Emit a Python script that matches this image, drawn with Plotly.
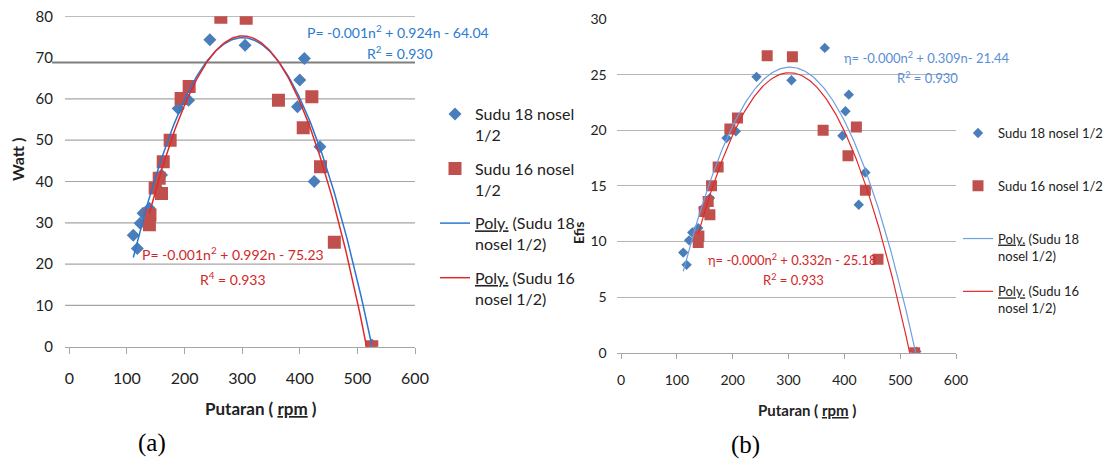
import numpy as np
import plotly.graph_objects as go

# ---------------- data ----------------
# (a) Power (Watt) vs rotation (rpm)
a_s18_rpm = [111, 118, 123, 128, 139, 152, 160, 189, 207, 244, 305, 396, 400, 408, 425, 435, 525]
a_s18_watt = [27.0, 23.8, 29.9, 32.3, 33.5, 38.5, 41.6, 57.7, 59.7, 74.3, 73.0, 58.1, 64.6, 69.8, 40.0, 48.4, 0.4]
a_s16_rpm = [139, 140, 149, 156, 160, 163, 175, 194, 208, 263, 307, 363, 406, 421, 436, 460, 525]
a_s16_watt = [29.5, 31.9, 38.4, 40.8, 37.1, 44.8, 50.0, 60.1, 63.0, 79.8, 79.5, 59.7, 53.0, 60.5, 43.6, 25.3, 0.0]

# (b) Efficiency vs rotation (rpm)
b_s18_rpm = [111.5, 117.5, 122, 127.6, 138.3, 147.3, 159.2, 189, 205.7, 242.7, 305.3, 365, 396.5, 402, 408, 425.8, 437.7, 529]
b_s18_eff = [9.0, 7.9, 10.1, 10.8, 11.2, 13.0, 13.9, 19.3, 19.9, 24.8, 24.5, 27.4, 19.5, 21.7, 23.2, 13.3, 16.2, 0.1]
b_s16_rpm = [138.3, 139.5, 149, 156.2, 159.2, 162.2, 174, 195, 208.7, 261.8, 307, 362, 406.6, 421.6, 437.7, 460.3, 526]
b_s16_eff = [9.9, 10.5, 12.7, 13.6, 12.4, 15.0, 16.7, 20.1, 21.1, 26.7, 26.6, 20.0, 17.7, 20.3, 14.6, 8.4, 0.0]

a_y_ticks = [0, 10, 20, 30, 40, 50, 60, 70, 80]
b_y_ticks = [0, 5, 10, 15, 20, 25, 30]
x_ticks = [0, 100, 200, 300, 400, 500, 600]

WAVY = "text-decoration:underline;text-decoration-style:wavy;text-decoration-color:#e00000"
name_s18 = "Sudu 18 nosel<br>1/2"
name_s16 = "Sudu 16 nosel<br>1/2"
name_p18 = f"<span style='{WAVY}'>Poly.</span> (Sudu 18<br>nosel 1/2)"
name_p16 = f"<span style='{WAVY}'>Poly.</span> (Sudu 16<br>nosel 1/2)"
name_s18b = "Sudu 18 nosel 1/2<br> "
name_s16b = "Sudu 16 nosel 1/2<br> "

# ---------------- style ----------------
W, H = 1104, 461
FONT = "Lato"
BLUE_M = "#4A7EBB"
RED_M = "#C0504D"
BLUE_L = "#2a78cf"
BLUE_L2 = "#6f9fe0"
RED_L = "#e02a2a"
GRID = "#a6a6a6"


def px(x):
    return x / W


def py(y):
    return 1 - y / H


def trend(x, y):
    c = np.polyfit(x, y, 2)
    xs = np.linspace(min(x), max(x), 200)
    return xs, np.polyval(c, xs)


fig = go.Figure()

# ---- panel (a) ----
fig.add_trace(go.Scatter(x=a_s18_rpm, y=a_s18_watt, mode="markers", name=name_s18,
                         marker=dict(symbol="diamond", size=10, color=BLUE_M),
                         xaxis="x", yaxis="y", legend="legend", legendgroup="a1"))
fig.add_trace(go.Scatter(x=a_s16_rpm, y=a_s16_watt, mode="markers", name=name_s16,
                         marker=dict(symbol="square", size=13, color=RED_M),
                         xaxis="x", yaxis="y", legend="legend", legendgroup="a2"))
xs, ys = trend(a_s18_rpm, a_s18_watt)
fig.add_trace(go.Scatter(x=xs, y=ys, mode="lines", name=name_p18,
                         line=dict(color=BLUE_L, width=1.5),
                         xaxis="x", yaxis="y", legend="legend", legendgroup="a3"))
xs, ys = trend(a_s16_rpm, a_s16_watt)
fig.add_trace(go.Scatter(x=xs, y=ys, mode="lines", name=name_p16,
                         line=dict(color=RED_L, width=1.5),
                         xaxis="x", yaxis="y", legend="legend", legendgroup="a4"))

# ---- panel (b) ----
fig.add_trace(go.Scatter(x=b_s18_rpm, y=b_s18_eff, mode="markers", name=name_s18b,
                         marker=dict(symbol="diamond", size=8, color=BLUE_M),
                         xaxis="x2", yaxis="y2", legend="legend2", legendgroup="b1"))
fig.add_trace(go.Scatter(x=b_s16_rpm, y=b_s16_eff, mode="markers", name=name_s16b,
                         marker=dict(symbol="square", size=11, color=RED_M),
                         xaxis="x2", yaxis="y2", legend="legend2", legendgroup="b2"))
xs, ys = trend(b_s18_rpm, b_s18_eff)
fig.add_trace(go.Scatter(x=xs, y=ys, mode="lines", name=name_p18,
                         line=dict(color=BLUE_L2, width=1.2),
                         xaxis="x2", yaxis="y2", legend="legend2", legendgroup="b3"))
xs, ys = trend(b_s16_rpm, b_s16_eff)
fig.add_trace(go.Scatter(x=xs, y=ys, mode="lines", name=name_p16,
                         line=dict(color=RED_L, width=1.2),
                         xaxis="x2", yaxis="y2", legend="legend2", legendgroup="b4"))

# ---- axes ----
common_x = dict(tickmode="array", tickvals=x_ticks, showgrid=False, zeroline=False,
                showline=True, linecolor=GRID, linewidth=1.2,
                ticks="outside", tickcolor=GRID, fixedrange=True)
fig.update_layout(
    xaxis=dict(domain=[px(65), px(415)], range=[-7.5, 600], anchor="y",
               ticklen=6, ticklabelstandoff=11,
               tickfont=dict(family=FONT, size=16, color="#222"), **common_x),
    yaxis=dict(domain=[py(346.7), py(16.3)], range=[0, 80], anchor="x",
               tickmode="array", tickvals=a_y_ticks, showgrid=False, zeroline=False,
               showline=False, ticks="", ticklabelstandoff=11,
               tickfont=dict(family=FONT, size=15, color="#222")),
    xaxis2=dict(domain=[px(616.7), px(956)], range=[-7.7, 600], anchor="y2",
                ticklen=5, ticklabelstandoff=9,
                tickfont=dict(family=FONT, size=14, color="#222"), **common_x),
    yaxis2=dict(domain=[py(352.7), py(19)], range=[0, 30], anchor="x2",
                tickmode="array", tickvals=b_y_ticks, showgrid=True, gridcolor="#b4b4b4",
                gridwidth=1, zeroline=False, showline=False, ticks="", ticklabelstandoff=9,
                tickfont=dict(family=FONT, size=14, color="#222")),
)

# gridlines of panel (a) (the 70 line is replaced by a darker stray rule in the source)
shapes = []
for v in [10, 20, 30, 40, 50, 60, 80]:
    shapes.append(dict(type="line", xref="x domain", yref="y", x0=0, x1=1, y0=v, y1=v,
                       line=dict(color=GRID, width=1.2), layer="below"))
shapes.append(dict(type="line", xref="paper", yref="y", x0=px(52), x1=px(415), y0=68.8, y1=68.8,
                   line=dict(color="#7f7f7f", width=2), layer="below"))

# ---- legends ----
fig.update_layout(
    legend=dict(x=px(435), y=py(97), xanchor="left", yanchor="top", traceorder="grouped",
                tracegroupgap=10, valign="top", bgcolor="rgba(0,0,0,0)",
                font=dict(family=FONT, size=16, color="#222")),
    legend2=dict(x=px(958), y=py(118), xanchor="left", yanchor="top", traceorder="grouped",
                 tracegroupgap=16, valign="top", bgcolor="rgba(0,0,0,0)",
                 font=dict(family=FONT, size=13, color="#222")),
)

ann = []


def text(x, y, s, size, color="#222", bold=False, family=FONT, angle=0, xanchor="center"):
    if bold:
        s = f"<b>{s}</b>"
    ann.append(dict(x=px(x), y=py(y), xref="paper", yref="paper", text=s, showarrow=False,
                    xanchor=xanchor, yanchor="middle", textangle=angle,
                    font=dict(family=family, size=size, color=color)))


EQ_BLUE = "#2b7bd0"
EQ_BLUE2 = "#5b8ed6"
EQ_RED = "#d02828"
text(398, 32, "P= -0.001n<sup>2</sup> + 0.924n - 64.04", 14, EQ_BLUE)
text(400, 53, "R<sup>2</sup> = 0.930", 14, EQ_BLUE)
text(233, 253, "P= -0.001n<sup>2</sup> + 0.992n - 75.23", 14, EQ_RED)
text(233, 278, "R<sup>4</sup> = 0.933", 14, EQ_RED)
text(927, 57, "η= -0.000n<sup>2</sup> + 0.309n- 21.44", 13, EQ_BLUE2)
text(927, 77, "R<sup>2</sup> = 0.930", 13, EQ_BLUE2)
text(792, 259, "η= -0.000n<sup>2</sup> + 0.332n - 25.18", 13, EQ_RED)
text(793, 279, "R<sup>2</sup> = 0.933", 13, EQ_RED)

text(261, 408, f"Putaran ( <span style='{WAVY}'>rpm</span> )", 17, bold=True)
text(807, 410, f"Putaran ( <span style='{WAVY}'>rpm</span> )", 15, bold=True)
text(17, 160, "Watt )", 16, bold=True, angle=-90)
text(578, 233, "Efis", 14, bold=True, angle=-90)
text(152, 443, "(a)", 25, family="Liberation Serif", color="#000")
text(745, 445, "(b)", 25, family="Liberation Serif", color="#000")

fig.update_layout(
    width=W, height=H, margin=dict(l=0, r=0, t=0, b=0, autoexpand=False),
    paper_bgcolor="white", plot_bgcolor="white",
    showlegend=True, annotations=ann, shapes=shapes,
    font=dict(family=FONT, color="#222"),
)

fig.write_html("out.html", config={"displayModeBar": False})
